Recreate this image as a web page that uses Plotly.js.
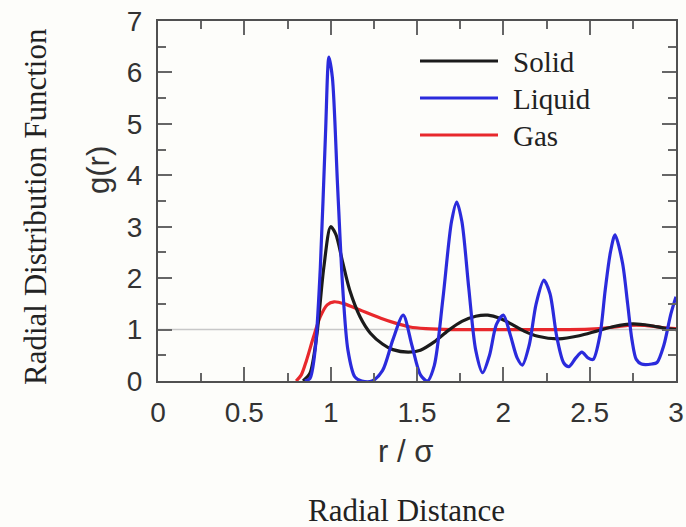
<!DOCTYPE html>
<html>
<head>
<meta charset="utf-8">
<script src="https://cdn.plot.ly/plotly-3.0.1.min.js"></script>
<style>
  html, body { margin: 0; padding: 0; background: #fdfdfa; }
  #chart { width: 686px; height: 527px; }
</style>
</head>
<body>
<div id="chart"></div>
<script>
// ---- Data ----
const seriesNames = ["Solid", "Liquid", "Gas"];

const solidR = [0.84, 0.88, 0.92, 0.96, 1.00, 1.03, 1.07, 1.11, 1.17, 1.23, 1.30, 1.36, 1.45, 1.52, 1.60, 1.68, 1.76, 1.84, 1.91, 1.98, 2.05, 2.12, 2.20, 2.32, 2.44, 2.54, 2.64, 2.75, 2.85, 2.93, 3.00];
const solidG = [0.00, 0.15, 0.90, 2.20, 3.00, 2.85, 2.30, 1.77, 1.25, 0.93, 0.72, 0.61, 0.56, 0.60, 0.76, 0.98, 1.16, 1.26, 1.28, 1.22, 1.10, 0.97, 0.87, 0.82, 0.88, 0.97, 1.06, 1.11, 1.08, 1.03, 1.00];

const liquidR = [0.85, 0.88, 0.91, 0.94, 0.97, 0.99, 1.01, 1.04, 1.07, 1.10, 1.14, 1.18, 1.24, 1.30, 1.36, 1.42, 1.47, 1.52, 1.56, 1.60, 1.65, 1.70, 1.73, 1.76, 1.80, 1.84, 1.88, 1.92, 1.96, 2.00, 2.04, 2.08, 2.11, 2.15, 2.19, 2.235, 2.27, 2.31, 2.35, 2.38, 2.42, 2.455, 2.49, 2.52, 2.56, 2.59, 2.62, 2.647, 2.69, 2.72, 2.745, 2.77, 2.80, 2.86, 2.89, 2.93, 2.97, 3.00];
const liquidG = [0.00, 0.05, 0.60, 2.20, 4.80, 6.30, 5.90, 3.80, 1.80, 0.60, 0.08, 0.00, 0.00, 0.20, 0.80, 1.28, 0.70, 0.12, 0.00, 0.30, 1.60, 3.10, 3.48, 3.10, 1.80, 0.60, 0.16, 0.50, 1.10, 1.28, 0.90, 0.45, 0.31, 0.70, 1.50, 1.96, 1.70, 0.85, 0.35, 0.28, 0.45, 0.56, 0.45, 0.42, 0.90, 1.77, 2.50, 2.84, 2.30, 1.50, 0.80, 0.42, 0.33, 0.33, 0.36, 0.70, 1.30, 1.64];

const gasR = [0.80, 0.83, 0.86, 0.90, 0.94, 0.98, 1.02, 1.08, 1.17, 1.29, 1.38, 1.46, 1.55, 1.70, 2.00, 2.30, 2.50, 2.62, 2.72, 2.82, 2.92, 3.00];
const gasG = [0.00, 0.12, 0.40, 0.85, 1.25, 1.48, 1.54, 1.50, 1.38, 1.22, 1.12, 1.05, 1.02, 1.00, 1.00, 1.00, 1.01, 1.04, 1.08, 1.08, 1.04, 1.02];

const xTicks = [0, 0.5, 1, 1.5, 2, 2.5, 3];
const xTickText = ["0", "0.5", "1", "1.5", "2", "2.5", "3"];
const yTicks = [0, 1, 2, 3, 4, 5, 6, 7];
const yTickText = ["0", "1", "2", "3", "4", "5", "6", "7"];
const referenceLevel = 1;

// ---- Styling ----
const colors = { Solid: "#1b1b1b", Liquid: "#2b2bdc", Gas: "#e8282c" };
const sans = "Liberation Sans, Arial, sans-serif";
const serif = "Liberation Serif, Times New Roman, serif";

// plot area in pixels
const L = 158, R = 676, T = 21, B = 381;
const W = 686, H = 527;
const px = x => (x - L) / (R - L);
const py = y => (B - y) / (B - T);

const traces = [
  { x: gasR, y: gasG, name: seriesNames[2], line: { color: colors.Gas, width: 3.2, shape: "spline", smoothing: 0.8 } },
  { x: solidR, y: solidG, name: seriesNames[0], line: { color: colors.Solid, width: 3.2, shape: "spline", smoothing: 0.8 } },
  { x: liquidR, y: liquidG, name: seriesNames[1], line: { color: colors.Liquid, width: 3.2, shape: "spline", smoothing: 0.8 } }
].map(t => Object.assign({ type: "scatter", mode: "lines", showlegend: false, hoverinfo: "skip" }, t));

const axisCommon = {
  showgrid: false, zeroline: false,
  showline: true, linecolor: "#505050", linewidth: 2, mirror: "ticks",
  ticks: "inside", ticklen: 14, tickwidth: 2, tickcolor: "#666",
  tickfont: { family: sans, size: 28, color: "#333" },
};

const legendOrder = ["Solid", "Liquid", "Gas"];
const legendY = [61, 98, 135];
const shapes = [
  { type: "line", xref: "paper", yref: "y", x0: 0, x1: 1, y0: referenceLevel, y1: referenceLevel,
    line: { color: "#c8c8c8", width: 1.5 }, layer: "below" }
];
const annotations = [];
legendOrder.forEach((nm, i) => {
  shapes.push({ type: "line", xref: "paper", yref: "paper", x0: px(420), x1: px(498), y0: py(legendY[i]), y1: py(legendY[i]),
    line: { color: colors[nm], width: 3.2 } });
  annotations.push({ xref: "paper", yref: "paper", x: px(511), y: py(legendY[i] + 1), xanchor: "left", yanchor: "middle",
    text: nm, showarrow: false, font: { family: serif, size: 29, color: "#222" } });
});
annotations.push(
  { xref: "paper", yref: "paper", x: px(98), y: py(170), xanchor: "center", yanchor: "middle", textangle: -90,
    text: "g(r)", showarrow: false, font: { family: sans, size: 31, color: "#333" } },
  { xref: "paper", yref: "paper", x: px(405), y: py(451), xanchor: "center", yanchor: "middle",
    text: "r / σ", showarrow: false, font: { family: sans, size: 31, color: "#333" } },
  { xref: "paper", yref: "paper", x: px(36), y: py(207), xanchor: "center", yanchor: "middle", textangle: -90,
    text: "Radial Distribution Function", showarrow: false, font: { family: serif, size: 31, color: "#222" } },
  { xref: "paper", yref: "paper", x: px(406), y: py(510), xanchor: "center", yanchor: "middle",
    text: "Radial Distance", showarrow: false, font: { family: serif, size: 31, color: "#222" } }
);

const layout = {
  width: W, height: H,
  margin: { l: L, r: W - R, t: T, b: H - B, pad: 0 },
  paper_bgcolor: "#fdfdfa", plot_bgcolor: "#fdfdfa",
  showlegend: false,
  xaxis: Object.assign({}, axisCommon, {
    range: [0, 3], tickvals: xTicks, ticktext: xTickText, ticklabelstandoff: 5,
    minor: { dtick: 0.25, tick0: 0, ticks: "inside", ticklen: 8, tickwidth: 2, tickcolor: "#666" }
  }),
  yaxis: Object.assign({}, axisCommon, {
    range: [0, 7], tickvals: yTicks, ticktext: yTickText, ticklabelstandoff: 8,
    minor: { dtick: 0.5, tick0: 0, ticks: "inside", ticklen: 8, tickwidth: 2, tickcolor: "#666" }
  }),
  shapes: shapes,
  annotations: annotations
};

Plotly.newPlot("chart", traces, layout, { displayModeBar: false, staticPlot: true });
</script>
</body>
</html>
